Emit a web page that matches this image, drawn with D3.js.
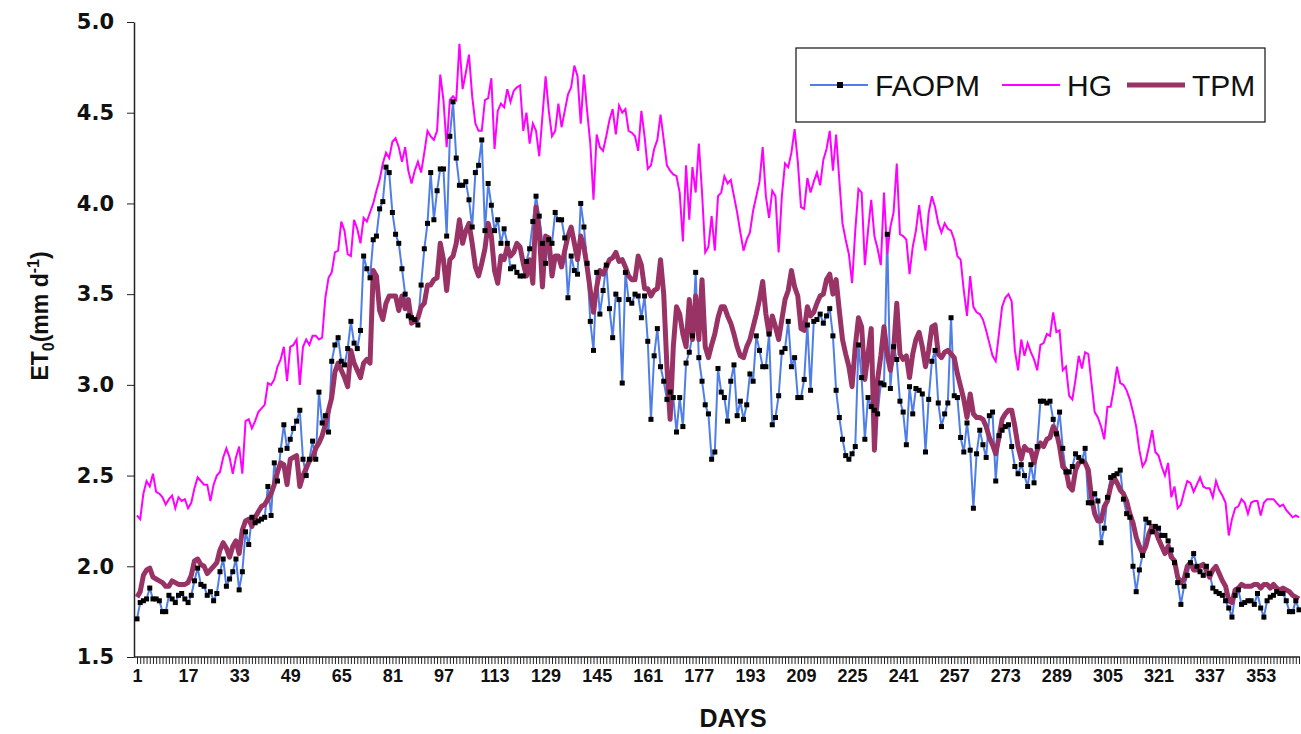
<!DOCTYPE html>
<html>
<head>
<meta charset="utf-8">
<script src="https://cdn.jsdelivr.net/npm/d3@7"></script>
<style>
  body { margin: 0; background: #fff; }
  #chart { width: 1301px; height: 734px; }
</style>
</head>
<body>
<div id="chart"></div>
<script>
// day of year categories and axis labels
const days = d3.range(1, 366);
const xLabelDays = [1, 17, 33, 49, 65, 81, 97, 113, 129, 145, 161, 177, 193, 209, 225, 241, 257, 273, 289, 305, 321, 337, 353];
const yTickValues = [1.5, 2.0, 2.5, 3.0, 3.5, 4.0, 4.5, 5.0];
const seriesNames = ['FAOPM', 'HG', 'TPM'];

// ET0 (mm/day), day 1..365
const faopm = [
  1.71, 1.80, 1.81, 1.82, 1.88, 1.82, 1.82, 1.81, 1.75, 1.75,
  1.84, 1.82, 1.80, 1.84, 1.85, 1.82, 1.80, 1.84, 1.92, 1.99,
  1.90, 1.89, 1.84, 1.86, 1.81, 1.85, 1.97, 2.04, 1.89, 1.93,
  1.97, 2.04, 1.87, 1.97, 2.19, 2.12, 2.27, 2.24, 2.25, 2.26,
  2.27, 2.44, 2.28, 2.57, 2.47, 2.64, 2.78, 2.65, 2.70, 2.76,
  2.80, 2.86, 2.59, 2.50, 2.59, 2.69, 2.59, 2.96, 2.79, 2.83,
  2.74, 3.13, 3.22, 3.26, 3.13, 3.11, 3.20, 3.35, 3.23, 3.20,
  3.30, 3.71, 3.64, 3.59, 3.80, 3.82, 3.97, 4.01, 4.20, 4.17,
  3.95, 3.83, 3.78, 3.64, 3.50, 3.38, 3.37, 3.36, 3.33, 3.55,
  3.75, 3.89, 4.17, 3.91, 4.07, 4.19, 4.19, 3.82, 4.37, 4.56,
  4.25, 4.10, 4.10, 4.12, 4.02, 3.87, 4.17, 4.21, 4.35, 3.85,
  4.11, 3.99, 3.85, 3.91, 3.78, 3.86, 3.78, 3.64, 3.65, 3.62,
  3.60, 3.60, 3.68, 3.75, 3.90, 4.04, 3.93, 3.78, 3.67, 3.80,
  3.78, 3.95, 3.91, 3.91, 3.81, 3.48, 3.71, 3.63, 3.61, 4.00,
  3.87, 3.67, 3.35, 3.19, 3.62, 3.39, 3.52, 3.66, 3.42, 3.26,
  3.50, 3.47, 3.01, 3.62, 3.47, 3.45, 3.50, 3.49, 3.37, 3.49,
  3.24, 2.81, 3.16, 3.31, 3.10, 3.02, 2.92, 2.96, 2.93, 2.74,
  2.93, 2.77, 3.12, 3.18, 3.27, 3.62, 3.15, 3.02, 2.89, 2.84,
  2.59, 2.63, 3.09, 2.96, 2.93, 2.80, 3.02, 3.11, 2.83, 2.91,
  2.81, 2.89, 3.06, 3.02, 3.27, 3.19, 3.10, 3.10, 3.28, 2.78,
  2.82, 2.94, 3.18, 3.20, 3.35, 3.10, 3.15, 2.93, 2.93, 3.03,
  3.33, 2.97, 3.35, 3.36, 3.39, 3.34, 3.38, 3.42, 3.27, 2.97,
  2.82, 2.70, 2.61, 2.59, 2.62, 2.66, 3.22, 3.04, 2.70, 2.93,
  2.88, 2.86, 2.84, 3.01, 3.00, 3.83, 2.98, 3.21, 3.14, 2.91,
  2.85, 2.67, 2.99, 2.84, 2.98, 2.97, 2.95, 2.63, 2.92, 3.13,
  3.19, 2.90, 2.77, 2.84, 2.90, 3.37, 2.94, 2.93, 2.71, 2.63,
  2.79, 2.64, 2.32, 2.62, 2.75, 2.67, 2.60, 2.83, 2.85, 2.47,
  2.72, 2.75, 2.77, 2.78, 2.66, 2.55, 2.51, 2.56, 2.50, 2.44,
  2.56, 2.46, 2.66, 2.91, 2.91, 2.90, 2.91, 2.81, 2.73, 2.85,
  2.65, 2.52, 2.52, 2.55, 2.62, 2.60, 2.58, 2.65, 2.35, 2.35,
  2.40, 2.36, 2.13, 2.21, 2.38, 2.49, 2.50, 2.51, 2.53, 2.37,
  2.29, 2.27, 2.00, 1.86, 1.98, 2.06, 2.26, 2.24, 2.19, 2.22,
  2.21, 2.17, 2.17, 2.14, 2.09, 2.02, 1.91, 1.79, 1.89, 1.95,
  2.02, 2.07, 2.00, 1.97, 1.95, 2.00, 1.96, 1.88, 1.86, 1.85,
  1.84, 1.81, 1.77, 1.72, 1.84, 1.87, 1.79, 1.80, 1.81, 1.81,
  1.79, 1.85, 1.77, 1.72, 1.81, 1.83, 1.84, 1.86, 1.85, 1.85,
  1.81, 1.75, 1.75, 1.81, 1.76
];

const hg = [
  2.28, 2.26, 2.40, 2.47, 2.44, 2.51, 2.41, 2.40, 2.38, 2.34,
  2.37, 2.39, 2.32, 2.38, 2.36, 2.37, 2.32, 2.35, 2.43, 2.49,
  2.47, 2.45, 2.45, 2.36, 2.45, 2.50, 2.52, 2.60, 2.65, 2.60,
  2.51, 2.60, 2.66, 2.51, 2.80, 2.81, 2.76, 2.80, 2.85, 2.87,
  2.89, 3.01, 3.00, 3.03, 3.10, 3.14, 3.21, 3.02, 3.21, 3.22,
  3.25, 3.00, 3.21, 3.25, 3.22, 3.27, 3.27, 3.25, 3.26, 3.48,
  3.59, 3.62, 3.73, 3.74, 3.90, 3.85, 3.72, 3.71, 3.91, 3.86,
  3.78, 3.92, 3.90, 3.95, 4.00, 4.07, 4.13, 4.22, 4.28, 4.25,
  4.34, 4.36, 4.31, 4.23, 4.31, 4.18, 4.11, 4.18, 4.23, 4.17,
  4.28, 4.40, 4.37, 4.35, 4.40, 4.71, 4.57, 4.31, 4.57, 4.59,
  4.57, 4.88, 4.63, 4.72, 4.82, 4.59, 4.44, 4.40, 4.40, 4.57,
  4.58, 4.69, 4.30, 4.51, 4.55, 4.53, 4.63, 4.56, 4.62, 4.64,
  4.65, 4.40, 4.50, 4.33, 4.44, 4.40, 4.26, 4.48, 4.70, 4.51,
  4.37, 4.40, 4.55, 4.42, 4.51, 4.60, 4.64, 4.76, 4.70, 4.44,
  4.71, 4.51, 4.33, 4.02, 4.38, 4.31, 4.29, 4.37, 4.46, 4.52,
  4.38, 4.54, 4.50, 4.52, 4.40, 4.39, 4.37, 4.29, 4.51, 4.37,
  4.19, 4.21, 4.30, 4.35, 4.49, 4.35, 4.21, 4.18, 4.16, 4.15,
  4.06, 3.79, 4.21, 3.91, 4.20, 4.06, 4.33, 4.06, 3.73, 3.76,
  3.93, 3.74, 4.04, 4.06, 4.15, 4.11, 4.13, 4.04, 3.95, 3.84,
  3.74, 3.80, 3.84, 3.96, 4.04, 4.12, 4.31, 4.04, 3.92, 4.07,
  4.04, 3.73, 4.04, 4.22, 4.20, 4.28, 4.41, 4.23, 3.98, 3.97,
  4.14, 4.06, 4.12, 4.17, 4.10, 4.24, 4.30, 4.40, 4.18, 4.38,
  4.13, 3.89, 3.80, 3.72, 3.56, 3.85, 4.08, 4.06, 3.66, 3.85,
  4.02, 3.82, 3.75, 3.66, 4.06, 3.72, 3.87, 3.95, 4.22, 3.83,
  3.82, 3.80, 3.61, 3.76, 3.85, 3.99, 3.85, 3.74, 3.95, 4.04,
  3.98, 3.89, 3.84, 3.89, 3.86, 3.85, 3.80, 3.71, 3.69, 3.52,
  3.38, 3.60, 3.43, 3.40, 3.39, 3.36, 3.30, 3.23, 3.16, 3.13,
  3.28, 3.43, 3.48, 3.50, 3.46, 3.19, 3.08, 3.25, 3.16, 3.23,
  3.18, 3.14, 3.08, 3.22, 3.23, 3.28, 3.27, 3.40, 3.29, 3.30,
  3.08, 3.10, 2.94, 2.92, 3.03, 3.16, 3.09, 3.18, 3.17, 3.01,
  2.85, 2.82, 2.77, 2.70, 2.88, 2.88, 2.98, 3.10, 3.01, 3.00,
  2.97, 2.92, 2.85, 2.77, 2.64, 2.55, 2.58, 2.66, 2.75, 2.63,
  2.61, 2.55, 2.50, 2.57, 2.38, 2.44, 2.32, 2.34, 2.41, 2.47,
  2.46, 2.41, 2.45, 2.49, 2.44, 2.43, 2.43, 2.38, 2.47, 2.42,
  2.39, 2.35, 2.17, 2.26, 2.32, 2.33, 2.37, 2.35, 2.29, 2.35,
  2.36, 2.36, 2.28, 2.35, 2.37, 2.37, 2.37, 2.35, 2.33, 2.34,
  2.31, 2.29, 2.27, 2.28, 2.27
];

const tpm = [
  1.83, 1.86, 1.95, 1.98, 1.99, 1.94, 1.93, 1.92, 1.91, 1.89,
  1.89, 1.92, 1.91, 1.90, 1.90, 1.90, 1.91, 1.95, 2.03, 2.04,
  2.01, 2.00, 1.96, 1.98, 2.00, 2.02, 2.09, 2.13, 2.10, 2.05,
  2.11, 2.14, 2.07, 2.20, 2.25, 2.26, 2.22, 2.27, 2.30, 2.33,
  2.34, 2.37, 2.40, 2.45, 2.52, 2.57, 2.56, 2.45, 2.59, 2.60,
  2.61, 2.44, 2.50, 2.54, 2.58, 2.60, 2.65, 2.68, 2.72, 2.78,
  2.86, 2.93, 3.07, 3.12, 3.08, 3.04, 2.99, 3.19, 3.12, 3.08,
  3.04, 3.12, 3.14, 3.12, 3.63, 3.60, 3.41, 3.36, 3.45, 3.49,
  3.49, 3.49, 3.41, 3.49, 3.42, 3.47, 3.34, 3.35, 3.37, 3.43,
  3.45, 3.55, 3.55, 3.58, 3.59, 3.78, 3.69, 3.52, 3.69, 3.71,
  3.78, 3.91, 3.78, 3.85, 3.89, 3.78, 3.65, 3.60, 3.67, 3.75,
  3.89, 3.82, 3.63, 3.56, 3.71, 3.69, 3.76, 3.71, 3.73, 3.78,
  3.76, 3.67, 3.60, 3.69, 3.56, 3.98, 3.85, 3.54, 3.82, 3.81,
  3.60, 3.71, 3.71, 3.65, 3.74, 3.82, 3.87, 3.78, 3.69, 3.82,
  3.76, 3.65, 3.52, 3.40, 3.54, 3.63, 3.61, 3.65, 3.69, 3.70,
  3.73, 3.68, 3.69, 3.65, 3.60, 3.58, 3.58, 3.71, 3.66, 3.53,
  3.53, 3.49, 3.52, 3.53, 3.69, 3.50, 3.10, 2.81, 3.21, 3.43,
  3.39, 3.28, 3.21, 3.47, 3.25, 3.49, 3.25, 3.58, 3.21, 3.15,
  3.22, 3.28, 3.37, 3.43, 3.43, 3.38, 3.34, 3.28, 3.21, 3.16,
  3.15, 3.21, 3.25, 3.32, 3.39, 3.47, 3.57, 3.39, 3.28, 3.38,
  3.32, 3.25, 3.36, 3.47, 3.52, 3.63, 3.54, 3.49, 3.31, 3.30,
  3.43, 3.38, 3.40, 3.45, 3.49, 3.50, 3.58, 3.61, 3.50, 3.58,
  3.41, 3.25, 3.17, 3.10, 2.99, 3.21, 3.37, 3.32, 3.03, 3.17,
  3.31, 2.64, 3.03, 3.16, 3.32, 3.17, 3.08, 3.19, 3.45, 3.17,
  3.14, 3.16, 3.04, 3.17, 3.25, 3.29, 3.21, 3.10, 3.19, 3.32,
  3.33, 3.17, 3.15, 3.18, 3.19, 3.17, 3.15, 3.06, 2.99, 2.92,
  2.82, 2.95, 2.84, 2.82, 2.82, 2.81, 2.77, 2.71, 2.67, 2.62,
  2.71, 2.81, 2.84, 2.86, 2.86, 2.77, 2.66, 2.59, 2.66, 2.64,
  2.64, 2.57, 2.64, 2.68, 2.66, 2.70, 2.71, 2.77, 2.74, 2.66,
  2.55, 2.53, 2.44, 2.42, 2.53, 2.57, 2.58, 2.57, 2.53, 2.38,
  2.29, 2.25, 2.25, 2.33, 2.36, 2.44, 2.49, 2.46, 2.42, 2.40,
  2.36, 2.29, 2.24, 2.16, 2.11, 2.07, 2.11, 2.18, 2.22, 2.20,
  2.15, 2.11, 2.07, 2.11, 2.05, 2.03, 1.94, 1.91, 1.93, 2.00,
  2.02, 1.98, 1.98, 2.00, 2.01, 1.98, 1.94, 1.98, 2.00, 1.96,
  1.92, 1.89, 1.81, 1.80, 1.87, 1.88, 1.90, 1.89, 1.89, 1.89,
  1.90, 1.90, 1.88, 1.90, 1.90, 1.88, 1.90, 1.88, 1.87, 1.88,
  1.87, 1.86, 1.84, 1.83, 1.82
];

class EtChart {
    constructor(containerId) {
        this.container = document.getElementById(containerId);
        this.width = 1301;
        this.height = 734;

        this.svg = d3.select(this.container)
            .append('svg')
            .attr('width', this.width)
            .attr('height', this.height)
            .style('font-family', 'Liberation Sans, Arial, sans-serif');

        // scales
        this.x = d3.scaleLinear().domain([1, 365]).range([137, 1299]);
        this.y = d3.scaleLinear().domain([1.5, 5.0]).range([657, 22]);
        this.axisX = 134;

        this.colors = { FAOPM: '#4f7fe6', HG: '#ff00ff', TPM: '#993366' };

        this.drawAxes();
        this.drawSeries();
        this.drawLegend();
    }

    drawAxes() {
        const y0 = this.y(1.5);

        // bottom axis with a tick for every day
        const xAxis = d3.axisBottom(this.x)
            .tickValues(days)
            .tickSize(7)
            .tickSizeOuter(0)
            .tickFormat(d => xLabelDays.includes(d) ? d : '');

        const gx = this.svg.append('g')
            .attr('class', 'x-axis')
            .attr('transform', `translate(0,${y0})`)
            .call(xAxis);
        gx.select('.domain').remove();
        gx.selectAll('.tick line').attr('stroke', '#222').attr('stroke-width', 1);
        gx.selectAll('.tick text')
            .attr('y', 12)
            .attr('fill', '#111')
            .style('font-size', '18px')
            .style('font-weight', 'bold');

        this.svg.append('line')
            .attr('x1', this.axisX).attr('x2', 1300)
            .attr('y1', y0).attr('y2', y0)
            .attr('stroke', '#222').attr('stroke-width', 1.5);

        // left axis
        const yAxis = d3.axisLeft(this.y)
            .tickValues(yTickValues)
            .tickSize(7)
            .tickSizeOuter(0)
            .tickFormat(d3.format('.1f'));

        const gy = this.svg.append('g')
            .attr('class', 'y-axis')
            .attr('transform', `translate(${this.axisX},0)`)
            .call(yAxis);
        gy.select('.domain').attr('stroke', '#222').attr('stroke-width', 1.5);
        gy.selectAll('.tick line').attr('stroke', '#222');
        gy.selectAll('.tick text')
            .attr('x', -20)
            .attr('fill', '#111')
            .style('font-family', 'DejaVu Sans, Verdana, sans-serif')
            .style('font-size', '21px')
            .style('font-weight', 'bold');

        // axis titles
        this.svg.append('text')
            .attr('x', 733).attr('y', 727)
            .attr('text-anchor', 'middle')
            .style('font-size', '25px')
            .style('font-weight', 'bold')
            .attr('fill', '#111')
            .text('DAYS');

        const yt = this.svg.append('text')
            .attr('transform', 'translate(48,316) rotate(-90)')
            .attr('text-anchor', 'middle')
            .style('font-size', '23px')
            .style('font-weight', 'bold')
            .attr('fill', '#111');
        yt.append('tspan').text('ET');
        yt.append('tspan').attr('dy', 6).style('font-size', '16px').text('0');
        yt.append('tspan').attr('dy', -6).text('(mm d');
        yt.append('tspan').attr('dy', -9).style('font-size', '16px').text('-1');
        yt.append('tspan').attr('dy', 9).text(')');
    }

    drawSeries() {
        const line = d3.line()
            .x((d, i) => this.x(days[i]))
            .y(d => this.y(d));

        const plot = this.svg.append('g').attr('class', 'plot');

        plot.append('path')
            .datum(faopm)
            .attr('fill', 'none')
            .attr('stroke', this.colors.FAOPM)
            .attr('stroke-width', 2)
            .attr('d', line);

        plot.append('path')
            .datum(hg)
            .attr('fill', 'none')
            .attr('stroke', this.colors.HG)
            .attr('stroke-width', 2)
            .attr('d', line);

        plot.append('path')
            .datum(tpm)
            .attr('fill', 'none')
            .attr('stroke', this.colors.TPM)
            .attr('stroke-width', 5)
            .attr('stroke-linejoin', 'round')
            .attr('d', line);

        // FAOPM square markers
        plot.selectAll('.faopm-marker')
            .data(faopm)
            .enter()
            .append('rect')
            .attr('class', 'faopm-marker')
            .attr('x', (d, i) => this.x(days[i]) - 2.5)
            .attr('y', d => this.y(d) - 2.5)
            .attr('width', 5)
            .attr('height', 5)
            .attr('fill', '#000');
    }

    drawLegend() {
        const lg = this.svg.append('g').attr('class', 'legend');
        lg.append('rect')
            .attr('x', 796).attr('y', 48)
            .attr('width', 469).attr('height', 74)
            .attr('fill', '#fff')
            .attr('stroke', '#111')
            .attr('stroke-width', 1.2);

        const items = [
            { name: seriesNames[0], x: 810, width: 2 },
            { name: seriesNames[1], x: 1002, width: 2 },
            { name: seriesNames[2], x: 1127, width: 5 }
        ];
        const ly = 85;
        items.forEach(it => {
            lg.append('line')
                .attr('x1', it.x).attr('x2', it.x + 58)
                .attr('y1', ly).attr('y2', ly)
                .attr('stroke', this.colors[it.name])
                .attr('stroke-width', it.width);
            if (it.name === 'FAOPM') {
                lg.append('rect')
                    .attr('x', it.x + 27).attr('y', ly - 3)
                    .attr('width', 6).attr('height', 6)
                    .attr('fill', '#000');
            }
            lg.append('text')
                .attr('x', it.x + 65).attr('y', ly + 11)
                .style('font-size', '30px')
                .attr('fill', '#111')
                .text(it.name);
        });
    }
}

new EtChart('chart');
</script>
</body>
</html>
